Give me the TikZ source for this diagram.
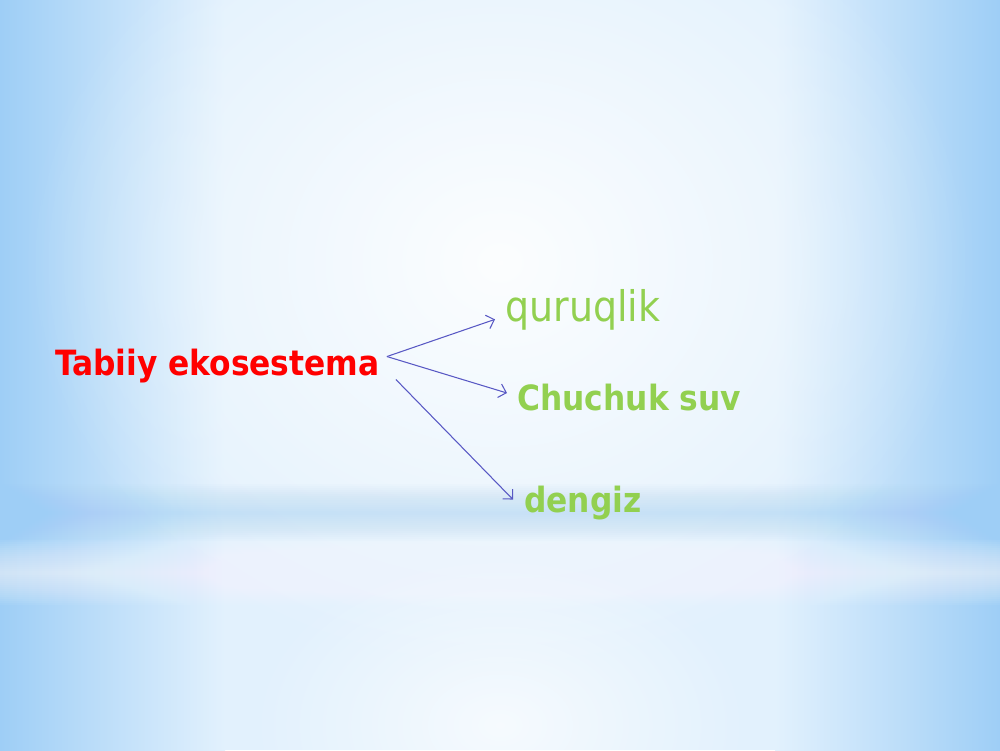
\documentclass[tikz,border=0pt]{standalone}
\usepackage{fontspec}
\setmainfont{DejaVu Sans Condensed}
\usetikzlibrary{positioning,fadings,arrows.meta}
\definecolor{bgedge}{RGB}{158,206,246}
\definecolor{bgbase}{RGB}{226,241,253}
\definecolor{titlered}{RGB}{255,0,0}
\definecolor{leafgreen}{RGB}{146,208,80}
\definecolor{arrowblue}{RGB}{88,88,196}
\tikzfading[name=glow, inner color=transparent!0, outer color=transparent!100]

\begin{document}
\begin{tikzpicture}
		[auto,
		root/.style ={inner sep=0.08cm, anchor=base west, text=titlered, font=\bfseries\fontsize{19.8}{24}\selectfont},
		leaf/.style ={inner sep=0.08cm, anchor=base west, text=leafgreen, font=\bfseries\fontsize{19.8}{24}\selectfont},
		leaflight/.style ={leaf, font=\fontsize{24}{28}\selectfont},
		line/.style ={draw=arrowblue, line width=0.6pt, -{Straight Barb[length=4pt,width=8pt]}}]
		\useasboundingbox (0,0) rectangle (20,15);
		% background
		\begin{scope}
		\clip (0,0) rectangle (20,15);
		\fill[bgbase] (0,0) rectangle (20,15);
		\shade[left color=bgedge, right color=bgbase] (0,0) rectangle (4.5,15);
		\shade[left color=bgbase, right color=bgedge] (15.5,0) rectangle (20,15);
		\fill[white, opacity=0.9, path fading=glow] (0.5,1.5) rectangle (19.5,18);
		\foreach \h in {0.04,0.08,...,0.6}
			\fill[bgedge, opacity=0.035] (0,4.75-\h) rectangle (20,4.75+\h);
		\foreach \h in {0.04,0.08,...,0.68}
			\fill[white, opacity=0.05] (0,3.55-\h) rectangle (20,3.55+\h);
		\fill[white, opacity=0.7, path fading=glow] (5,-3) rectangle (15,4);
		\end{scope}
		% nodes
		\draw (1.02,7.5) node[root] (eko) {Tabiiy ekosestema};
		\draw (10.02,8.56) node[leaflight] (quruq) {quruqlik};
		\draw (10.26,6.8) node[leaf] (chuchuk) {Chuchuk suv};
		\draw (10.4,4.76) node[leaf] (dengiz) {dengiz};
		% arrows
		\draw[line] ([shift={(0.06,0.18)}]eko.east) -- ([shift={(-0.12,-0.18)}]quruq.west);
		\draw[line] ([shift={(0.06,0.18)}]eko.east) -- ([shift={(-0.12,0.08)}]chuchuk.west);
		\draw[line] ([shift={(0.24,-0.28)}]eko.east) -- ([shift={(-0.14,0.06)}]dengiz.west);
	\end{tikzpicture}
\end{document}
